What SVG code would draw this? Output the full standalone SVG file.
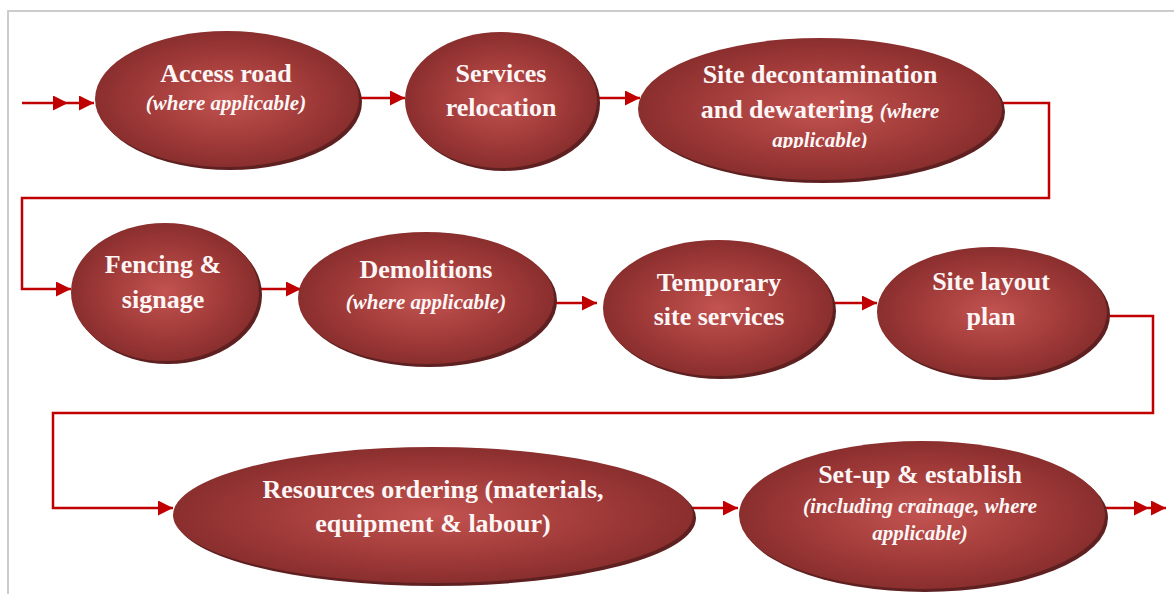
<svg xmlns="http://www.w3.org/2000/svg" width="1174" height="594" viewBox="0 0 1174 594">
  <defs>
    <radialGradient id="g" cx="0.5" cy="0.5" r="0.5">
      <stop offset="0" stop-color="#c25350"/>
      <stop offset="0.6" stop-color="#a23c3a"/>
      <stop offset="1" stop-color="#8a2e2e"/>
    </radialGradient>
    <marker id="ah" markerUnits="userSpaceOnUse" markerWidth="16" markerHeight="16" refX="15" refY="7.5" orient="auto">
      <path d="M0,0 L15,7.5 L0,15 z" fill="#c00000"/>
    </marker>
    <clipPath id="clipDecon">
      <rect x="640" y="40" width="360" height="108"/>
    </clipPath>
  </defs>
  <style>
    .sh { fill: #5e2020; }
    .el { fill: url(#g); }
    .t { font-family: "Liberation Serif", "Times New Roman", serif; font-weight: bold; font-size: 26px; fill: #fdf6f6; text-anchor: middle; }
    .i { font-family: "Liberation Serif", "Times New Roman", serif; font-weight: bold; font-style: italic; font-size: 21px; fill: #fdf6f6; text-anchor: middle; }
    .c { fill: none; stroke: #c00000; stroke-width: 2.5; }
    .a { marker-end: url(#ah); }
    .frame { stroke: #cccccc; stroke-width: 2; fill: none; }
  </style>

  <path class="frame" d="M8,594 L8,11 L1174,11"/>

  <g id="connectors">
    <path class="c a" d="M22,103 L68,103 L94,103" marker-mid="url(#ah)"/>
    <path class="c a" d="M358,98 L405,98"/>
    <path class="c a" d="M597,98 L640,98"/>
    <path class="c a" d="M1002,103 L1049,103 L1049,198 L22,198 L22,289 L71,289"/>
    <path class="c a" d="M258,289 L301,289"/>
    <path class="c a" d="M551,303 L597,303"/>
    <path class="c a" d="M830,303 L877,303"/>
    <path class="c a" d="M1105,316 L1153,316 L1153,413 L53,413 L53,508 L173,508"/>
    <path class="c a" d="M690,508 L738,508"/>
    <path class="c a" d="M1103,508 L1149,508 L1166,508" marker-mid="url(#ah)"/>
  </g>

  <g id="n1">
    <ellipse class="sh" cx="230" cy="102" rx="132" ry="68"/>
    <ellipse class="el" cx="227" cy="99" rx="132" ry="68"/>
    <text class="t" x="226" y="82">Access road</text>
    <text class="i" x="226" y="110">(where applicable)</text>
  </g>

  <g id="n2">
    <ellipse class="sh" cx="504" cy="103" rx="96" ry="68"/>
    <ellipse class="el" cx="501" cy="100" rx="96" ry="68"/>
    <text class="t" x="501" y="82">Services</text>
    <text class="t" x="501" y="116">relocation</text>
  </g>

  <g id="n3">
    <ellipse class="sh" cx="823" cy="112" rx="182" ry="71"/>
    <ellipse class="el" cx="820" cy="109" rx="182" ry="71"/>
    <g clip-path="url(#clipDecon)">
      <text class="t" x="820" y="83">Site decontamination</text>
      <text class="t" x="820" y="118">and dewatering <tspan class="i" style="font-size:21px">(where</tspan></text>
      <text class="i" x="820" y="147">applicable)</text>
    </g>
  </g>

  <g id="n4">
    <ellipse class="sh" cx="168" cy="295" rx="94" ry="69"/>
    <ellipse class="el" cx="165" cy="292" rx="94" ry="69"/>
    <text class="t" x="163" y="273">Fencing &amp;</text>
    <text class="t" x="163" y="308">signage</text>
  </g>

  <g id="n5">
    <ellipse class="sh" cx="429" cy="301" rx="128" ry="66"/>
    <ellipse class="el" cx="426" cy="298" rx="128" ry="66"/>
    <text class="t" x="426" y="278">Demolitions</text>
    <text class="i" x="426" y="309">(where applicable)</text>
  </g>

  <g id="n6">
    <ellipse class="sh" cx="721" cy="311" rx="115" ry="68"/>
    <ellipse class="el" cx="718" cy="308" rx="115" ry="68"/>
    <text class="t" x="719" y="291">Temporary</text>
    <text class="t" x="719" y="325">site services</text>
  </g>

  <g id="n7">
    <ellipse class="sh" cx="995" cy="315" rx="115" ry="65"/>
    <ellipse class="el" cx="992" cy="312" rx="115" ry="65"/>
    <text class="t" x="991" y="290">Site layout</text>
    <text class="t" x="991" y="325">plan</text>
  </g>

  <g id="n8">
    <ellipse class="sh" cx="436" cy="518" rx="260" ry="68"/>
    <ellipse class="el" cx="433" cy="515" rx="260" ry="68"/>
    <text class="t" x="433" y="498">Resources ordering (materials,</text>
    <text class="t" x="433" y="532">equipment &amp; labour)</text>
  </g>

  <g id="n9">
    <ellipse class="sh" cx="925" cy="518" rx="183" ry="74"/>
    <ellipse class="el" cx="922" cy="515" rx="183" ry="74"/>
    <text class="t" x="920" y="483">Set-up &amp; establish</text>
    <text class="i" x="920" y="513">(including crainage, where</text>
    <text class="i" x="920" y="540">applicable)</text>
  </g>
</svg>
